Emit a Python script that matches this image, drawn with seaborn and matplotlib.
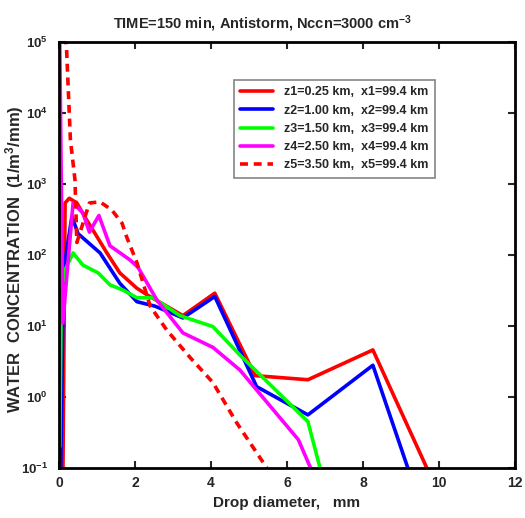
import numpy as np
import pandas as pd
import matplotlib
matplotlib.use("Agg")
import matplotlib.pyplot as plt
import seaborn as sns
from matplotlib.ticker import FixedLocator, FuncFormatter, NullLocator

# ---- data ----
labels = ["z1=0.25 km,  x1=99.4 km",
          "z2=1.00 km,  x2=99.4 km",
          "z3=1.50 km,  x3=99.4 km",
          "z4=2.50 km,  x4=99.4 km",
          "z5=3.50 km,  x5=99.4 km"]

d1 = [0.10, 0.16, 0.27, 0.47, 0.73, 0.95, 1.26, 1.60, 2.05, 2.34, 3.26, 4.10, 5.16, 6.55, 8.26, 9.68]
c1 = [0.05, 540, 630, 540, 310, 200, 107, 56, 34, 27, 14, 29, 2.0, 1.75, 4.6, 0.1]

d2 = [0.02, 0.12, 0.34, 0.50, 1.08, 1.60, 2.05, 2.53, 3.26, 4.10, 5.20, 6.55, 8.26, 9.18]
c2 = [0.01, 60, 350, 200, 107, 40, 22, 19, 13, 26, 1.4, 0.56, 2.8, 0.1]

d3 = [0.02, 0.06, 0.15, 0.37, 0.63, 1.03, 1.34, 1.69, 2.05, 2.48, 3.18, 4.05, 4.76, 6.55, 6.87]
c3 = [0.2, 30, 60, 107, 72, 56, 38, 32, 25, 25, 14, 9.8, 3.9, 0.45, 0.1]

d4 = [0.02, 0.10, 0.37, 0.63, 0.80, 1.05, 1.34, 1.87, 2.08, 2.58, 3.26, 4.05, 4.76, 6.30, 6.62]
c4 = [1.0e5, 11, 540, 390, 210, 360, 135, 85, 67, 23, 8, 5, 2.4, 0.25, 0.1]

d5 = [0.17, 0.20, 0.30, 0.42, 0.47, 0.80, 1.08, 1.39, 1.66, 1.78, 2.05, 2.40, 2.84, 3.45, 4.05, 4.68, 5.47]
c5 = [1.2e5, 7.8e4, 4200, 1150, 150, 540, 560, 430, 280, 180, 78, 19, 8.7, 3.6, 1.6, 0.43, 0.1]

xticks = [0, 2, 4, 6, 8, 10, 12]
yticks = [1e-1, 1e0, 1e1, 1e2, 1e3, 1e4, 1e5]

series = [(d1, c1, "#ff0000", "-"),
          (d2, c2, "#0000ff", "-"),
          (d3, c3, "#00ff00", "-"),
          (d4, c4, "#ff00ff", "-"),
          (d5, c5, "#ff0000", (0, (2.2, 1.6)))]

# ---- plot ----
sns.set_theme(style="white")
plt.rcParams["font.family"] = ["Liberation Sans", "DejaVu Sans"]
plt.rcParams["font.weight"] = "bold"
plt.rcParams["mathtext.fontset"] = "custom"
plt.rcParams["mathtext.rm"] = "Liberation Sans:bold"
plt.rcParams["mathtext.bf"] = "Liberation Sans:bold"
plt.rcParams["mathtext.it"] = "Liberation Sans:bold"

fig = plt.figure(figsize=(5.25, 5.18), dpi=100)
ax = fig.add_axes([59/525, 1-468/518, 456/525, 426/518])

for (dx, cy, col, ls), lab in zip(series, labels):
    df = pd.DataFrame({"d": dx, "c": cy})
    sns.lineplot(data=df, x="d", y="c", ax=ax, color=col, linewidth=2.6,
                 linestyle=ls, label=lab, sort=False, estimator=None)

ax.set_yscale("log")
ax.set_xlim(0, 12)
ax.set_ylim(1e-1, 1e5)
ax.xaxis.set_major_locator(FixedLocator(xticks))
ax.yaxis.set_major_locator(FixedLocator(yticks))
ax.yaxis.set_minor_locator(NullLocator())
ax.xaxis.set_major_formatter(FuncFormatter(lambda v, p: f"{int(v)}"))
ax.yaxis.set_major_formatter(FuncFormatter(lambda v, p: r"$10^{%d}$" % int(round(np.log10(v)))))
ax.tick_params(axis="x", which="major", direction="in", length=5, width=1.5,
               top=True, bottom=True, labelsize=10, pad=6)
ax.tick_params(axis="y", which="major", direction="in", length=5, width=1.5,
               left=True, right=True, labelsize=9.5, pad=8)
for lbl in ax.get_xticklabels() + ax.get_yticklabels():
    lbl.set_fontweight("bold")
for sp in ax.spines.values():
    sp.set_color("black")
    sp.set_linewidth(2.0)

ax.set_xlabel("Drop diameter,   mm", fontsize=11, fontweight="bold", labelpad=4)
ax.set_ylabel(r"WATER  CONCENTRATION  (1/m$^3$/mm)", fontsize=12, fontweight="bold")
ax.yaxis.set_label_coords(-0.072, 0.49)
fig.text(0.5, 0.955, r"TIME=150 min, Antistorm, Nccn=3000 cm$^{-3}$", ha="center", va="center",
         fontsize=10.5, fontweight="bold")

leg = ax.legend(loc="upper left", bbox_to_anchor=(0.37, 0.925), fontsize=9, frameon=True,
                fancybox=False, edgecolor="#666666", handlelength=2.6, labelspacing=0.5,
                borderpad=0.5, handletextpad=0.9)
leg.get_frame().set_linewidth(1.2)
for t in leg.get_texts():
    t.set_fontweight("bold")

fig.savefig("out.png", dpi=100, facecolor="white")
